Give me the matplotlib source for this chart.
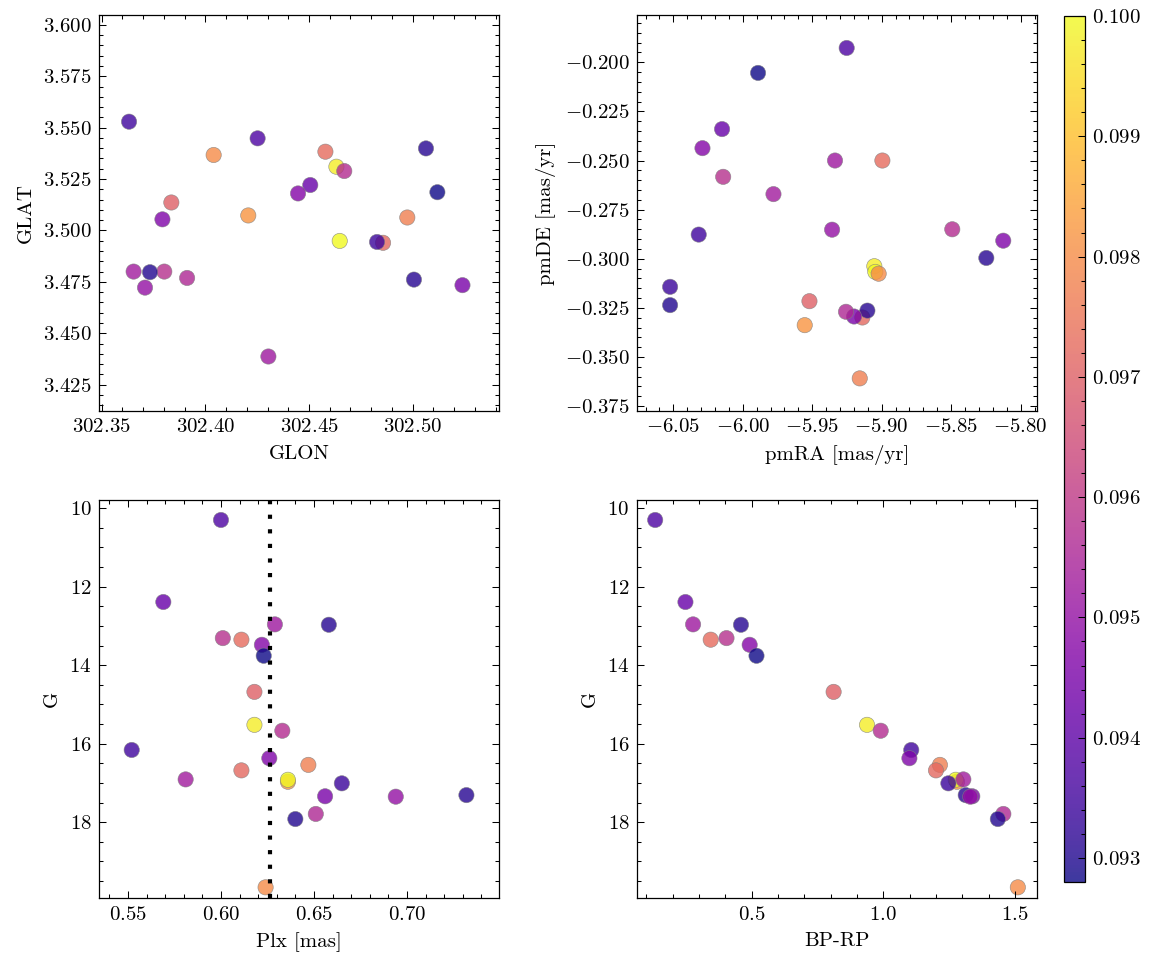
import numpy as np
import matplotlib
matplotlib.use('Agg')
import matplotlib.pyplot as plt
from matplotlib.ticker import AutoMinorLocator, ScalarFormatter, MultipleLocator

plt.rcParams['font.family'] = 'serif'
plt.rcParams['font.serif'] = ['cmr10']
plt.rcParams['mathtext.fontset'] = 'cm'
plt.rcParams['axes.formatter.use_mathtext'] = True
plt.rcParams['font.size'] = 10
plt.rcParams['axes.linewidth'] = 0.6

# star data
glon = [302.4252, 302.4506, 302.4304, 302.4579, 302.3802, 302.5064, 302.4447, 302.5119,
        302.3836, 302.4632, 302.4670, 302.3632, 302.3793, 302.4974, 302.4857, 302.4648,
        302.3654, 302.4828, 302.5006, 302.5240, 302.3709, 302.3912, 302.3733, 302.4040,
        302.4207]
glat = [3.5448, 3.5221, 3.4387, 3.5383, 3.4800, 3.5399, 3.5180, 3.5186,
        3.5136, 3.5310, 3.5289, 3.5529, 3.5054, 3.5063, 3.4940, 3.4949,
        3.4800, 3.4944, 3.4761, 3.4734, 3.4722, 3.4769, 3.4797, 3.5367,
        3.5073]
pmra = [-5.9252, -6.0149, -5.9336, -5.8995, -6.0141, -5.8247, -6.0290, -5.9890,
        -5.9520, -5.9053, -5.8492, -6.0317, -5.8125, -5.9158, -5.9139, -5.9046,
        -5.9779, -6.0523, -5.9103, -5.9199, -5.9357, -5.9257, -6.0523, -5.9022,
        -5.9554]
pmde = [-0.1927, -0.2340, -0.2500, -0.2500, -0.2583, -0.2996, -0.2437, -0.2054,
        -0.3216, -0.3038, -0.2850, -0.2877, -0.2908, -0.3609, -0.3299, -0.3067,
        -0.2671, -0.3143, -0.3264, -0.3294, -0.2852, -0.3270, -0.3236, -0.3076,
        -0.3338]
plx = [0.600, 0.569, 0.629, 0.611, 0.601, 0.658, 0.622, 0.623,
       0.618, 0.618, 0.633, 0.552, 0.626, 0.647, 0.611, 0.636,
       0.581, 0.665, 0.732, 0.656, 0.694, 0.651, 0.640, 0.624,
       0.636]
gmag = [10.30, 12.39, 12.96, 13.35, 13.31, 12.97, 13.48, 13.76,
        14.68, 15.52, 15.67, 16.16, 16.37, 16.54, 16.68, 16.92,
        16.91, 17.01, 17.31, 17.34, 17.35, 17.79, 17.92, 19.66,
        16.97]
bprp = [0.133, 0.248, 0.277, 0.344, 0.404, 0.459, 0.492, 0.518,
        0.811, 0.938, 0.990, 1.106, 1.099, 1.215, 1.200, 1.275,
        1.304, 1.247, 1.313, 1.338, 1.330, 1.456, 1.435, 1.511,
        1.280]
cval = [0.0937, 0.0942, 0.0952, 0.0973, 0.0958, 0.0931, 0.0947, 0.0928,
        0.0970, 0.0998, 0.0957, 0.0935, 0.0946, 0.0977, 0.0972, 0.1000,
        0.0953, 0.0934, 0.0931, 0.0945, 0.0950, 0.0956, 0.0930, 0.0980,
        0.0982]
plx_ref = 0.6264

# draw order: put the last star before the bright yellow one
order = list(range(15)) + [24, 15] + list(range(16, 24))


def pick(vals):
    return [vals[i] for i in order]


fig = plt.figure(figsize=(7.7, 965 / 150), dpi=150)
ax1 = fig.add_axes([0.0857, 0.5741, 0.3463, 0.4104])
ax2 = fig.add_axes([0.5513, 0.5741, 0.3468, 0.4104])
ax3 = fig.add_axes([0.0857, 0.0691, 0.3463, 0.4128])
ax4 = fig.add_axes([0.5513, 0.0691, 0.3468, 0.4128])
cax = fig.add_axes([0.9212, 0.0860, 0.0182, 0.8974])

kw = dict(c=pick(cval), cmap='plasma', vmin=0.0928, vmax=0.1, s=54, alpha=0.8,
          edgecolors='gray', linewidths=0.3)

sc = ax1.scatter(pick(glon), pick(glat), **kw)
ax1.set_xlabel('GLON')
ax1.set_ylabel('GLAT')
ax1.set_xlim(302.3487, 302.5416)
ax1.set_ylim(3.4122, 3.6048)

ax2.scatter(pick(pmra), pick(pmde), **kw)
ax2.set_xlabel('pmRA [mas/yr]')
ax2.set_ylabel('pmDE [mas/yr]')
ax2.set_xlim(-6.0763, -5.788)
ax2.set_ylim(-0.3775, -0.1759)

ax3.scatter(pick(plx), pick(gmag), **kw)
ax3.axvline(plx_ref, color='k', lw=2, dashes=(1, 2.5))
ax3.set_xlabel('Plx [mas]')
ax3.set_ylabel('G')
ax3.set_xlim(0.5344, 0.7495)
ax3.set_ylim(19.94, 9.79)

ax4.scatter(pick(bprp), pick(gmag), **kw)
ax4.set_xlabel('BP-RP')
ax4.set_ylabel('G')
ax4.set_xlim(0.063, 1.585)
ax4.set_ylim(19.94, 9.79)
ax4.xaxis.set_major_locator(MultipleLocator(0.5))

for ax in (ax1, ax2, ax3, ax4):
    ax.xaxis.set_minor_locator(AutoMinorLocator())
    ax.yaxis.set_minor_locator(AutoMinorLocator())
    ax.tick_params(which='both', direction='in', top=True, right=True, width=0.5)
    ax.tick_params(which='major', length=3.5)
    ax.tick_params(which='minor', length=1.8)
ax4.xaxis.set_minor_locator(MultipleLocator(0.1))

fmt = ScalarFormatter(useOffset=False)
ax1.xaxis.set_major_formatter(fmt)

cb = fig.colorbar(sc, cax=cax)
cb.solids.set_alpha(0.8)
cb.set_ticks([0.093, 0.094, 0.095, 0.096, 0.097, 0.098, 0.099, 0.100])
cb.ax.yaxis.set_minor_locator(AutoMinorLocator())
cb.ax.tick_params(which='both', direction='in', width=0.5)
cb.ax.tick_params(which='major', length=3.5)
cb.ax.tick_params(which='minor', length=1.8)
cb.outline.set_linewidth(0.6)

fig.savefig('out.png', dpi=150)
